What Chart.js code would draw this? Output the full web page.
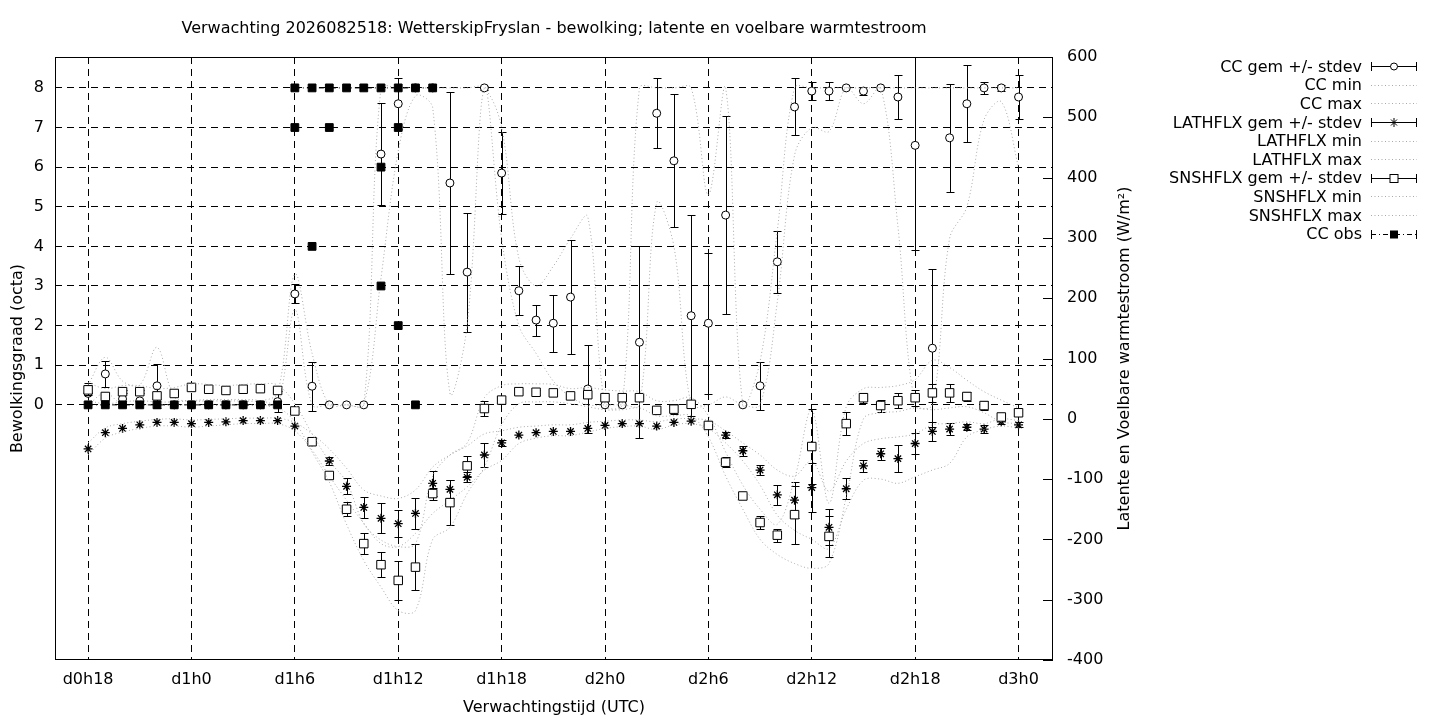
<!DOCTYPE html>
<html lang="nl">
<head>
<meta charset="UTF-8">
<title>Verwachting 2026082518: WetterskipFryslan - bewolking; latente en voelbare warmtestroom</title>
<script src="https://cdn.jsdelivr.net/npm/chart.js"></script>
<style>
  body { margin: 0; background: #fff; font-family: 'DejaVu Sans', sans-serif; }
  .wrap { position: relative; width: 1440px; height: 720px; overflow: hidden; }
  #chart { position: absolute; left: 0; top: 0; }
  #legend { position: absolute; left: 1000px; top: 57px; width: 418px; }
  .row { height: 18.6px; display: flex; justify-content: flex-end; align-items: center;
         font-size: 16px; color: #000; white-space: nowrap; }
  .row svg { margin-left: 8px; flex: none; }
</style>
</head>
<body>
<div class="wrap">
  <canvas id="chart" width="1440" height="720"></canvas>
  <div id="legend"></div>
</div>
<script>
// uren vanaf d0h0
const hours = [18,19,20,21,22,23,24,25,26,27,28,29,30,31,32,33,34,35,36,37,38,39,40,41,
  42,43,44,45,46,47,48,49,50,51,52,53,54,55,56,57,58,59,60,61,62,63,64,65,66,67,68,69,70,71,72];

// bewolking (octa)
const ccMean = [0.29,0.78,0.15,0.10,0.48,0,0,0,0,0,0,0.08,
  2.80,0.47,0,0,0,6.33,7.60,8.0,8.0,5.60,3.35,8.0,
  5.85,2.88,2.14,2.06,2.72,0.40,0,0,1.58,7.36,6.16,2.25,
  2.06,4.79,0,0.48,3.61,7.52,7.92,7.92,8.0,7.92,8.0,7.77,
  6.55,1.43,6.74,7.60,8.0,8.0,7.77];
const ccSd = [0.27,0.32,0,0,0.55,0,0,0,0,0,0,0.26,
  0.24,0.62,0,0,0,1.28,0.64,0,0,2.30,1.50,0.05,
  1.03,0.62,0.39,0.72,1.43,1.11,0,0,2.42,0.88,1.68,2.54,
  1.78,2.50,0,0.61,0.79,0.72,0.23,0.23,0,0.10,0,0.55,
  2.65,2.00,1.36,0.97,0.16,0.08,0.55];
const ccMin = [0,0.3,0,0,0,0,0,0,0,0,0,0,
  2.4,0,0,0,0,3.2,6.4,7.8,7.5,0.3,2.0,8,
  4.2,2.0,1.3,0.6,0.2,0,0,0,0,5.1,4.0,0,
  0,0.2,0,0,2.6,6.3,7.0,6.9,8,7.6,8,4.5,
  0,0,4.2,5.0,7.2,7.65,6.0];
const ccMax = [0.5,1.2,0.6,0.5,1.45,0.2,0.1,0.1,0.1,0.1,0.1,0.3,
  3.3,1.3,0,0,0,8,8,8,8,8,8,8,
  7.0,3.7,3.0,3.5,4.2,4.75,0,0,8,8,8,8,
  5.3,8,0,1.1,4.4,8,8,8,8,8,8,8,
  8,8,8,8,8,8,8];

// latente warmtestroom (W/m2)
const latMean = [-50,-23,-16,-10,-6,-6,-8,-6,-5,-3,-3,-3,
  -12,-38,-70,-112,-147,-165,-174,-157,-107,-117,-97,-60,
  -40,-27,-23,-21,-21,-16,-11,-8,-8,-12,-6,-4,
  -10,-27,-53,-85,-126,-135,-114,-180,-116,-78,-58,-66,
  -41,-21,-17,-14,-17,-5,-10];
const latSd = [0,0,0,0,0,0,0,0,0,0,0,0,
  0,0,7,13,17,25,22,26,21,15,8,20,
  5,0,0,0,0,0,0,0,0,0,0,0,
  0,5,8,8,17,30,40,30,17,10,10,23,
  17,15,10,5,7,4,4];
const latMin = [-60,-32,-22,-16,-12,-12,-14,-12,-10,-8,-8,-8,
  -20,-52,-95,-135,-173,-207,-212,-190,-157,-135,-113,-85,
  -69,-41,-32,-28,-28,-22,-16,-13,-12,-18,-10,-8,
  -16,-40,-70,-110,-160,-185,-200,-215,-150,-102,-100,-107,
  -96,-85,-74,-30,-18,-12,-15];
const latMax = [-40,-15,-8,-4,-1,0,-2,-1,0,1,1,1,
  -6,-25,-50,-82,-118,-128,-132,-118,-80,-60,-45,-25,
  -20,-14,-12,-10,-10,-6,-4,-2,-2,-5,0,0,
  -3,-20,-40,-60,-85,-95,-70,-120,-70,-41,-33,-30,
  -25,-10,-8,-5,-8,0,-3];

// voelbare warmtestroom (W/m2)
const snsMean = [48,37,45,45,38,42,52,49,47,49,50,47,
  13,-38,-94,-150,-207,-242,-268,-246,-124,-139,-78,17,
  31,45,44,43,38,40,35,35,35,14,16,24,
  -11,-72,-128,-172,-193,-159,-46,-195,-8,35,22,30,
  35,43,43,37,22,3,10];
const snsSd = [8,3,3,3,0,3,0,0,0,0,0,0,
  0,0,4,12,17,21,32,38,10,37,17,12,
  0,0,4,0,0,0,0,0,0,0,8,0,
  0,8,0,11,11,48,62,34,19,8,10,12,
  13,15,15,7,8,0,0];
const snsMin = [30,25,28,30,28,28,30,32,32,32,30,20,
  -5,-55,-105,-175,-235,-279,-318,-318,-200,-180,-124,-80,
  -10,25,28,28,25,20,15,15,18,5,5,5,
  -30,-95,-150,-200,-225,-240,-248,-240,-130,0,10,12,
  18,15,18,20,10,-5,-8];
const snsMax = [60,50,55,55,50,52,58,57,55,57,58,56,
  25,-25,-70,-105,-174,-201,-212,-207,-95,-60,-40,35,
  55,58,58,57,50,52,48,46,45,30,30,35,
  5,-55,-110,-150,-175,-100,15,-140,20,50,52,55,
  65,97,85,64,45,31,18];

// waargenomen bewolking
const obsHours = [18,19,20,21,22,23,24,25,26,27,28,29,29.5,30,31,32,33,34,35,36,37,38];
const obsValues = [0,0,0,0,0,0,0,0,0,0,0,0,null,8,8,8,8,8,8,8,8,8];
const obsExtraHours = [30,31,32,35,35,36,36,37];
const obsExtraValues = [7,4,7,6,3,7,2,0];

// assen
const xTickValues = [18,24,30,36,42,48,54,60,66,72];
const xTickLabels = ['d0h18','d1h0','d1h6','d1h12','d1h18','d2h0','d2h6','d2h12','d2h18','d3h0'];
const yTickValues = [0,1,2,3,4,5,6,7,8];
const y2TickValues = [-400,-300,-200,-100,0,100,200,300,400,500,600];

const legendItems = [
  ['CC gem +/- stdev', 'err', 'circle'],
  ['CC min', 'dot'],
  ['CC max', 'dot'],
  ['LATHFLX gem +/- stdev', 'err', 'star'],
  ['LATHFLX min', 'dot'],
  ['LATHFLX max', 'dot'],
  ['SNSHFLX gem +/- stdev', 'err', 'square'],
  ['SNSHFLX min', 'dot'],
  ['SNSHFLX max', 'dot'],
  ['CC obs', 'obs', 'filled']
];

const pts = (xs, ys) => xs.map((x, i) => ({x: x, y: ys[i]}));
const GREY = '#a9a9a9';

function meanSet(label, ys, sd, axis, style, radius, order) {
  return {
    label: label, data: pts(hours, ys), errSd: sd, yAxisID: axis,
    showLine: false, pointStyle: style, pointRadius: radius,
    pointBackgroundColor: '#fff', pointBorderColor: '#000',
    pointBorderWidth: style === 'star' ? 1.3 : 1,
    order: order
  };
}
function rangeSet(label, ys, axis, order) {
  return {
    label: label, data: pts(hours, ys), yAxisID: axis,
    borderColor: GREY, borderWidth: 1, borderDash: [1, 2.5],
    pointRadius: 0, tension: 0.35, fill: false, order: order
  };
}

const datasets = [
  meanSet('CC gem +/- stdev', ccMean, ccSd, 'y', 'circle', 4, 20),
  rangeSet('CC min', ccMin, 'y', 19),
  rangeSet('CC max', ccMax, 'y', 18),
  meanSet('LATHFLX gem +/- stdev', latMean, latSd, 'y2', 'star', 4.5, 17),
  rangeSet('LATHFLX min', latMin, 'y2', 16),
  rangeSet('LATHFLX max', latMax, 'y2', 15),
  meanSet('SNSHFLX gem +/- stdev', snsMean, snsSd, 'y2', 'rect', 6, 14),
  rangeSet('SNSHFLX min', snsMin, 'y2', 13),
  rangeSet('SNSHFLX max', snsMax, 'y2', 12),
  {
    label: 'CC obs', data: pts(obsHours, obsValues), yAxisID: 'y',
    borderColor: '#000', borderWidth: 1, borderDash: [5, 3, 1, 3],
    pointStyle: 'rect', pointRadius: 5.5, pointBackgroundColor: '#000',
    pointBorderColor: '#000', spanGaps: false, tension: 0, order: 11
  },
  {
    label: 'CC obs extra', data: pts(obsExtraHours, obsExtraValues), yAxisID: 'y',
    showLine: false, pointStyle: 'rect', pointRadius: 5.5,
    pointBackgroundColor: '#000', pointBorderColor: '#000', order: 10
  }
];

// foutbalken, kader, titels in gnuplot-stijl
const gnuplotLook = {
  id: 'gnuplotLook',
  beforeDatasetDraw(chart, args) {
    const ds = chart.data.datasets[args.index];
    if (!ds.errSd) return;
    const {ctx, chartArea: a} = chart;
    const xs = chart.scales.x, ys = chart.scales[ds.yAxisID];
    ctx.save();
    ctx.beginPath();
    ctx.rect(a.left, a.top, a.right - a.left, a.bottom - a.top);
    ctx.clip();
    ctx.strokeStyle = '#000';
    ctx.lineWidth = 1;
    ds.data.forEach((p, i) => {
      const sd = ds.errSd[i];
      if (!sd) return;
      const x = Math.round(xs.getPixelForValue(p.x)) + 0.5;
      const lo = Math.round(ys.getPixelForValue(p.y - sd)) + 0.5;
      const hi = Math.round(ys.getPixelForValue(p.y + sd)) + 0.5;
      ctx.beginPath();
      ctx.moveTo(x, lo); ctx.lineTo(x, hi);
      ctx.moveTo(x - 4, lo); ctx.lineTo(x + 4, lo);
      ctx.moveTo(x - 4, hi); ctx.lineTo(x + 4, hi);
      ctx.stroke();
    });
    ctx.restore();
  },
  afterDraw(chart) {
    const {ctx, chartArea: a} = chart;
    const y2 = chart.scales.y2;
    ctx.save();
    ctx.strokeStyle = '#000';
    ctx.lineWidth = 1;
    ctx.strokeRect(Math.round(a.left) + 0.5, Math.round(a.top) + 0.5,
      Math.round(a.right - a.left) - 1, Math.round(a.bottom - a.top) - 1);
    ctx.beginPath();
    y2TickValues.forEach(v => {
      const y = Math.round(y2.getPixelForValue(v)) + 0.5;
      ctx.moveTo(a.right - 10, y); ctx.lineTo(a.right, y);
    });
    ctx.stroke();
    ctx.fillStyle = '#000';
    ctx.font = '16px "DejaVu Sans"';
    ctx.textAlign = 'center';
    ctx.textBaseline = 'middle';
    ctx.fillText('Verwachting 2026082518: WetterskipFryslan - bewolking; latente en voelbare warmtestroom',
      (a.left + a.right) / 2, 29);
    ctx.translate(1125, (a.top + a.bottom) / 2);
    ctx.rotate(-Math.PI / 2);
    ctx.fillText('Latente en Voelbare warmtestroom (W/m²)', 0, 0);
    ctx.restore();
  }
};

Chart.defaults.font.family = "'DejaVu Sans', sans-serif";
Chart.defaults.font.size = 16;
Chart.defaults.color = '#000';

new Chart(document.getElementById('chart'), {
  type: 'line',
  data: { datasets: datasets },
  options: {
    responsive: false,
    animation: false,
    layout: { padding: { top: 57, right: 297, bottom: 0, left: 0 } },
    plugins: { legend: { display: false }, tooltip: { enabled: false }, title: { display: false } },
    scales: {
      x: {
        type: 'linear', min: 16.08, max: 74,
        afterBuildTicks: s => { s.ticks = xTickValues.map(v => ({value: v})); },
        afterFit: s => { s.height = 60; },
        ticks: { autoSkip: false, maxRotation: 0, padding: 10,
                 callback: (v, i) => xTickLabels[i] },
        grid: { color: '#000', lineWidth: 1, drawTicks: false },
        border: { display: false, dash: [7, 5] },
        title: { display: true, text: 'Verwachtingstijd (UTC)', padding: { top: 0, bottom: 3 } }
      },
      y: {
        type: 'linear', position: 'left', min: -6.44, max: 8.78,
        afterBuildTicks: s => { s.ticks = yTickValues.map(v => ({value: v})); },
        afterFit: s => { s.width = 55; },
        ticks: { padding: 11, callback: v => String(v) },
        grid: { color: '#000', lineWidth: 1, drawTicks: false },
        border: { display: false, dash: [7, 5] },
        title: { display: true, text: 'Bewolkingsgraad (octa)', padding: { top: 8, bottom: 0 } }
      },
      y2: {
        type: 'linear', position: 'right', min: -400, max: 600,
        afterBuildTicks: s => { s.ticks = y2TickValues.map(v => ({value: v})); },
        afterFit: s => { s.width = 90; },
        ticks: { padding: 14, callback: v => String(v) },
        grid: { display: false, drawTicks: false },
        border: { display: false }
      }
    }
  },
  plugins: [gnuplotLook]
});

// legenda rechts
function sample(kind, marker) {
  let s = '<svg width="48" height="14" viewBox="0 0 48 14">';
  if (kind === 'dot') {
    s += '<line x1="1" y1="7.5" x2="47" y2="7.5" stroke="' + GREY + '" stroke-width="1" stroke-dasharray="1 2.5"/>';
  } else {
    const dash = kind === 'obs' ? ' stroke-dasharray="5 3 1 3"' : '';
    s += '<line x1="1" y1="7.5" x2="47" y2="7.5" stroke="#000" stroke-width="1"' + dash + '/>';
    s += '<line x1="1.5" y1="3" x2="1.5" y2="12" stroke="#000"/>';
    s += '<line x1="46.5" y1="3" x2="46.5" y2="12" stroke="#000"/>';
    if (marker === 'circle') s += '<circle cx="24" cy="7.5" r="3.5" fill="#fff" stroke="#000"/>';
    if (marker === 'square') s += '<rect x="20" y="3.5" width="8" height="8" fill="#fff" stroke="#000"/>';
    if (marker === 'filled') s += '<rect x="20" y="3.5" width="8" height="8" fill="#000"/>';
    if (marker === 'star') s += '<path d="M24 3V12M19.5 7.5H28.5M21 4.5L27 10.5M27 4.5L21 10.5" stroke="#000"/>';
  }
  return s + '</svg>';
}
document.getElementById('legend').innerHTML = legendItems.map(it =>
  '<div class="row"><span>' + it[0] + '</span>' + sample(it[1], it[2]) + '</div>').join('');
</script>
</body>
</html>
